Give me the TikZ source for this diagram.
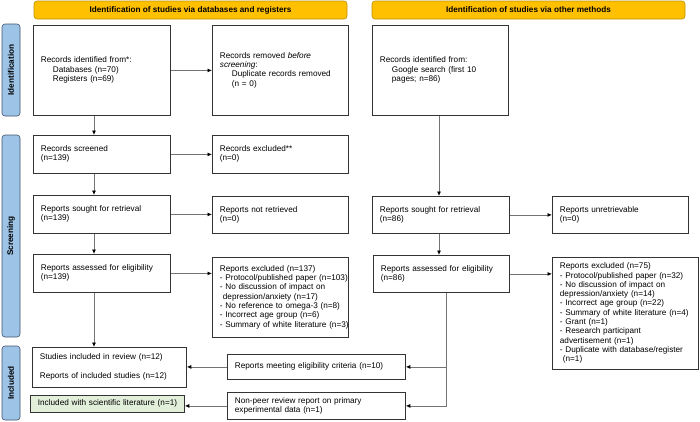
\documentclass[tikz,border=0pt]{standalone}
\usepackage{fontspec}
\setmainfont{Liberation Sans}
\usetikzlibrary{arrows.meta}
\definecolor{hdr}{HTML}{FFC000}
\definecolor{hdrline}{HTML}{BF9000}
\definecolor{side}{HTML}{9DC3E6}
\definecolor{sideline}{HTML}{44546A}
\definecolor{grn}{HTML}{E2EFDA}
\newcommand\bx[7]{%
  \pgfmathsetmacro\bxh{#6-#4}%
  \pgfmathsetmacro\bxt{#5-#3-15}%
  \node[box,#1,anchor=north west,text width=\bxt pt,minimum height=\bxh pt] (#2) at (#3,#4) {\begin{tabular}{@{}l@{}}#7\end{tabular}};}
\begin{document}
\begin{tikzpicture}[x=1pt,y=-1pt,
  txt/.style={font=\fontsize{8.2}{9.3}\selectfont},
  box/.style={txt,draw=black!80,line width=0.8pt,fill=white,inner xsep=7.5pt,inner ysep=2pt,align=left},
  hdrbox/.style={draw=hdrline,fill=hdr,rounded corners=3pt,line width=0.6pt,minimum width=313pt,minimum height=18pt,font=\fontsize{8.2}{9}\selectfont\bfseries},
  sidebox/.style={draw=sideline,fill=side,rounded corners=3pt,line width=0.6pt,minimum height=18pt,rotate=90,font=\fontsize{8.2}{9}\selectfont\bfseries},
  conn/.style={draw=black!55,line width=0.8pt,-{Latex[length=4.5pt,width=4pt,color=black]}}]
\useasboundingbox (0,0) rectangle (700,421);
% headers
\node[hdrbox] (hl) at (190.5,10) {Identification of studies via databases and registers};
\node[hdrbox] (hr) at (528.5,10) {Identification of studies via other methods};
% sidebars
\node[sidebox,minimum width=92pt] (s1) at (11,70) {Identification};
\node[sidebox,minimum width=202pt] (s2) at (11,236) {Screening};
\node[sidebox,minimum width=74pt] (s3) at (11,383) {Included};
% left column
\bx{}{A}{33}{25}{170}{115}{Records identified from*:\\\hspace*{12pt}Databases (n=70)\\\hspace*{12pt}Registers (n=69)}
\bx{}{B}{212}{25}{348}{115}{Records removed \textit{before}\\\textit{screening}:\\\hspace*{12pt}Duplicate records removed\\\hspace*{12pt}(n = 0)}
\bx{}{C}{33}{135}{170}{173}{Records screened\\(n=139)}
\bx{}{D}{212}{135}{348}{173}{Records excluded**\\(n=0)}
\bx{}{E}{33}{195}{170}{233}{Reports sought for retrieval\\(n=139)}
\bx{}{F}{212}{196}{348}{233}{Reports not retrieved\\(n=0)}
\bx{}{G}{33}{254}{170}{292}{Reports assessed for eligibility\\(n=139)}
\bx{}{H}{212}{257}{348}{337}{Reports excluded (n=137)\\- Protocol/published paper (n=103)\\- No discussion of impact on\\\hspace*{3pt}depression/anxiety (n=17)\\- No reference to omega-3 (n=8)\\- Incorrect age group (n=6)\\- Summary of white literature (n=3)}
\bx{}{I}{32}{347}{186}{387}{Studies included in review (n=12)\\[9.5pt]Reports of included studies (n=12)}
\bx{fill=grn}{J}{30}{395}{184}{412}{Included with scientific literature (n=1)}
\bx{}{K}{227}{354}{405}{379}{Reports meeting eligibility criteria (n=10)}
\bx{}{L}{227}{392}{405}{419}{Non-peer review report on primary\\experimental data (n=1)}
% right column
\bx{}{M}{372}{25}{508}{115}{Records identified from:\\\hspace*{12pt}Google search (first 10\\\hspace*{12pt}pages; n=86)}
\bx{}{N}{372}{196}{509}{233}{Reports sought for retrieval\\(n=86)}
\bx{}{O}{552}{196}{688}{233}{Reports unretrievable\\(n=0)}
\bx{}{P}{373}{255}{509}{292}{Reports assessed for eligibility\\(n=86)}
\bx{}{Q}{552}{257}{698}{369}{Reports excluded (n=75)\\- Protocol/published paper (n=32)\\- No discussion of impact on\\depression/anxiety (n=14)\\- Incorrect age group (n=22)\\- Summary of white literature (n=4)\\- Grant (n=1)\\- Research participant\\advertisement (n=1)\\- Duplicate with database/register\\\hspace*{3pt}(n=1)}
% guide coordinates
\coordinate (xl) at (94,0);
\coordinate (xr) at (439,0);
\coordinate (br) at (446,0);
% connectors left
\draw[conn] (A.south -| xl) -- (C.north -| xl);
\draw[conn] (C.south -| xl) -- (E.north -| xl);
\draw[conn] (E.south -| xl) -- (G.north -| xl);
\draw[conn] (G.south -| xl) -- (I.north -| xl);
\draw[conn] (A.east) -- (A.east -| B.west);
\draw[conn] (C.east) -- (C.east -| D.west);
\draw[conn] (E.east) -- (E.east -| F.west);
\draw[conn] (G.east) -- (G.east -| H.west);
% connectors right
\draw[conn] (M.south -| xr) -- (N.north -| xr);
\draw[conn] (N.south -| xr) -- (P.north -| xr);
\draw[conn] (N.east) -- (N.east -| O.west);
\draw[conn] (P.east) -- (P.east -| Q.west);
\draw[conn] (P.south -| br) |- (K.east);
\draw[conn] (P.south -| br) |- (L.east);
\draw[conn] (K.west) -- (K.west -| I.east);
\draw[conn] (L.west) -- (L.west -| J.east);
\end{tikzpicture}
\end{document}
